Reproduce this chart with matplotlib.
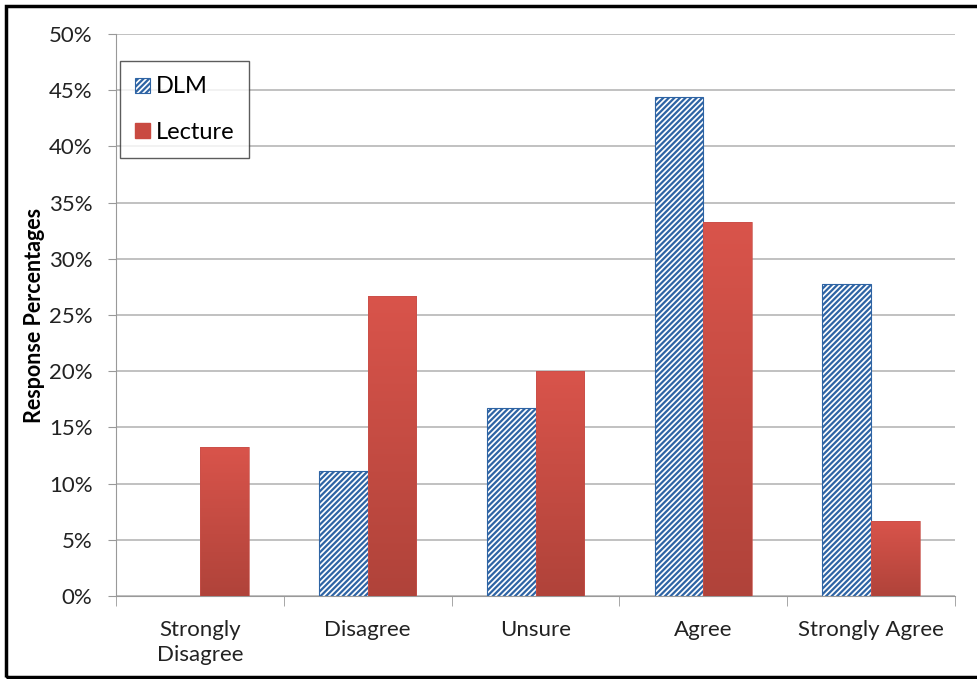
import numpy as np
import matplotlib.pyplot as plt
from matplotlib.patches import Rectangle
from matplotlib.colors import LinearSegmentedColormap

categories = ['Strongly\nDisagree', 'Disagree', 'Unsure', 'Agree', 'Strongly Agree']
dlm = [0.0, 11.1, 16.7, 44.4, 27.8]
lecture = [13.3, 26.7, 20.0, 33.3, 6.7]
yticks = [0, 5, 10, 15, 20, 25, 30, 35, 40, 45, 50]

plt.rcParams['font.family'] = ['Lato', 'DejaVu Sans']
plt.rcParams['hatch.linewidth'] = 1.6

fig = plt.figure(figsize=(9.77, 6.79), dpi=100)
ax = fig.add_axes([116 / 977, 1 - 596 / 679, (955 - 116) / 977, (596 - 34) / 679])

x = np.arange(len(categories))
w = 0.29
blue = '#2e64a4'

for xi, v in zip(x, dlm):
    if v > 0:
        ax.bar(xi - w / 2, v, w, color='white', edgecolor=blue, hatch='//////',
               linewidth=0.8, zorder=3)

# red bars with a vertical gradient
grad = np.linspace(0, 1, 256).reshape(-1, 1)
cmap = LinearSegmentedColormap.from_list('red', ['#b0433a', '#d9544b'])
for xi, v in zip(x, lecture):
    left = xi
    rect = Rectangle((left, 0), w, v, facecolor='none', edgecolor='#c8504a',
                     linewidth=0.5, zorder=4)
    ax.add_patch(rect)
    im = ax.imshow(grad, cmap=cmap, aspect='auto', origin='lower',
                   extent=(left, left + w, 0, v), zorder=3)
    im.set_clip_path(rect)

ax.set_xlim(-0.5, len(categories) - 0.5)
ax.set_ylim(0, 50)
ax.set_yticks(yticks)
ax.set_yticklabels([f'{t}%' for t in yticks], fontsize=16, color='#222222')
ax.set_xticks(x)
ax.set_xticklabels(categories, fontsize=16, color='#222222', linespacing=1.35)
ax.tick_params(axis='x', length=0, pad=17)
ax.tick_params(axis='y', length=6, color='#999999', pad=11)
ax.set_xticks(np.arange(-0.5, len(categories)), minor=True)
ax.tick_params(axis='x', which='minor', length=7, color='#999999', direction='out')

ax.grid(axis='y', color='#b0b0b0', linewidth=1.1, zorder=0)
ax.set_axisbelow(True)
for s in ['top', 'right']:
    ax.spines[s].set_visible(False)
ax.spines['left'].set_color('#999999')
ax.spines['bottom'].set_color('#999999')

ax.set_ylabel('Response Percentages', fontsize=15.5, fontweight='bold', labelpad=3)

h1 = Rectangle((0, 0), 1, 1, facecolor='white', edgecolor=blue, hatch='//////', linewidth=0.8)
h2 = Rectangle((0, 0), 1, 1, facecolor='#c94a41', edgecolor='#c94a41')
leg = ax.legend([h1, h2], ['DLM', 'Lecture'], loc='upper left',
                bbox_to_anchor=((120 - 116) / 839, (596 - 61) / 562),
                fontsize=17, frameon=True, fancybox=False, edgecolor='#333333',
                handlelength=0.6, handleheight=0.6, handletextpad=0.25,
                labelspacing=1.05, borderpad=0.65, borderaxespad=0)
leg.get_frame().set_linewidth(1.0)
leg.set_zorder(10)

# outer border
fig.patches.append(Rectangle((6 / 977, 2 / 679), 1.2, 1 - 8 / 679, transform=fig.transFigure,
                             fill=False, edgecolor='black', linewidth=2.5))

fig.savefig('out.png', dpi=100)
